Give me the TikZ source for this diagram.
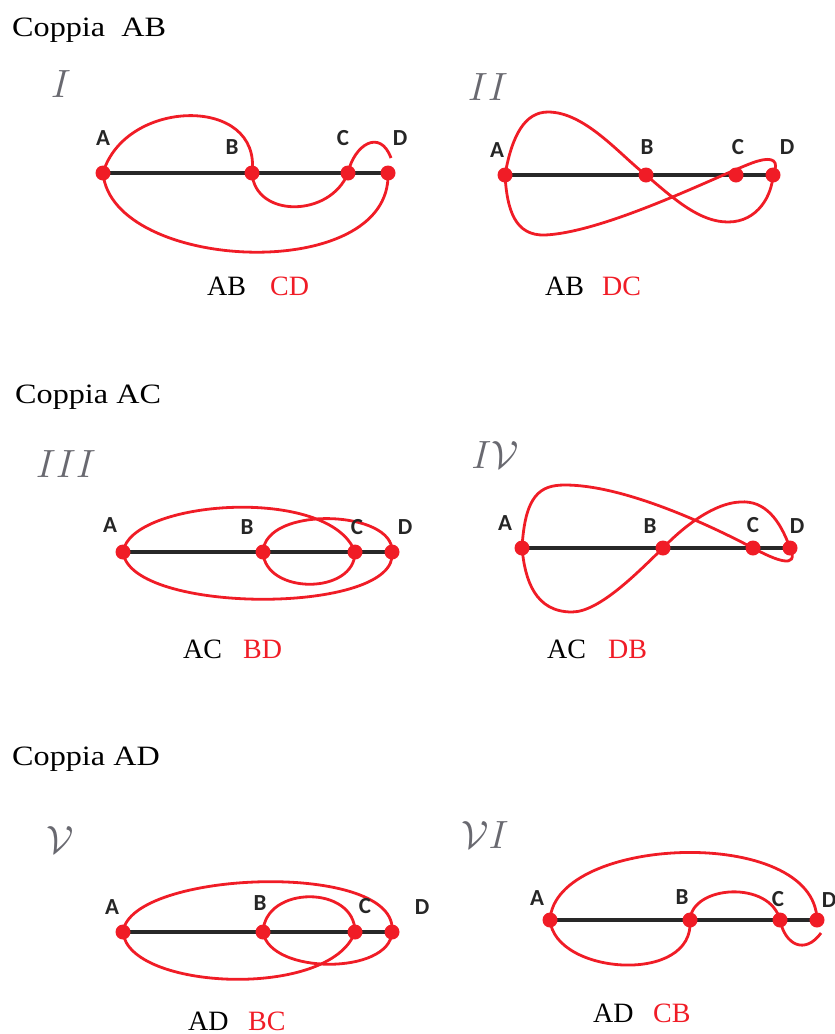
\documentclass[tikz,border=0pt]{standalone}
\usepackage{fontspec}
\setmainfont{Liberation Serif}
\newfontfamily\hdrfont[FakeStretch=1.15]{Liberation Serif}
\newfontfamily\ptfont{Carlito}
\definecolor{myred}{RGB}{240,28,38}
\definecolor{axisgray}{RGB}{40,40,40}
\definecolor{numgray}{RGB}{105,105,112}
\tikzset{
 dot/.style={circle,fill=myred,inner sep=0pt,minimum size=15pt},
 axisline/.style={line width=3.6pt,draw=axisgray},
 curve/.style={line width=2.8pt,draw=myred},
 ptlabel/.style={font=\ptfont\bfseries\fontsize{23}{23}\selectfont,inner sep=0pt,text=black!85},
 header/.style={font=\hdrfont\fontsize{28}{28}\selectfont,anchor=base west,inner sep=0pt},
 pairlbl/.style={font=\fontsize{28}{28}\selectfont,anchor=base west,inner sep=0pt},
 pairred/.style={pairlbl,text=myred},
 numlbl/.style={font=\fontsize{20}{20}\selectfont,text=numgray,inner sep=0pt},
}
\begin{document}
\begin{tikzpicture}[x=1pt,y=-1pt]
\useasboundingbox (0,0) rectangle (835,1034);
% headers
\node[header] (h1) at (12,36) {Coppia\ \ AB};
\node[header] (h2) at (15,403) {Coppia AC};
\node[header] (h3) at (12,765) {Coppia AD};
% roman numerals
\node[numlbl] (n1) at (61,84) {\scalebox{1.9}{$I$}};
\node[numlbl] (n2) at (488,87) {\scalebox{1.9}{$II$}};
\node[numlbl] (n3) at (66,464) {\scalebox{1.9}{$III$}};
\node[numlbl] (n4) at (495,455) {\scalebox{1.9}{$I\mathcal{V}$}};
\node[numlbl] (n5) at (60,840) {\scalebox{1.9}{$\mathcal{V}$}};
\node[numlbl] (n6) at (485,835) {\scalebox{1.9}{$\mathcal{V}I$}};
% ---------- points ----------
\coordinate (A1) at (103,173); \coordinate (B1) at (252,173);
\coordinate (C1) at (348,173); \coordinate (D1) at (388,173);
\coordinate (A2) at (505,175); \coordinate (B2) at (646,175);
\coordinate (C2) at (736,175); \coordinate (D2) at (773,175);
\coordinate (A3) at (123,552); \coordinate (B3) at (263,552);
\coordinate (C3) at (355,552); \coordinate (D3) at (392,552);
\coordinate (A4) at (522,548); \coordinate (B4) at (663,548);
\coordinate (C4) at (753,548); \coordinate (D4) at (790,548);
\coordinate (A5) at (123,932); \coordinate (B5) at (263,932);
\coordinate (C5) at (355,932); \coordinate (D5) at (392,932);
\coordinate (A6) at (550,920); \coordinate (B6) at (690,920);
\coordinate (C6) at (780,920); \coordinate (D6) at (817,920);
% ---------- axes ----------
\foreach \i in {1,...,6} {\draw[axisline] (A\i) -- (D\i);}
% ---------- panel I ----------
\draw[curve] (A1) .. controls (125,98) and (262,95) .. (B1);
\draw[curve] (B1) .. controls (255,218) and (330,218) .. (C1)
  .. controls (354,145) and (380,128) .. (391,158);
\draw[curve] (A1) .. controls (112,272) and (392,285) .. (D1);
\node[ptlabel] (la1) at (103,138) {A};
\node[ptlabel] (lb1) at (232,147) {B};
\node[ptlabel] (lc1) at (343,138) {C};
\node[ptlabel] (ld1) at (400,138) {D};
\node[pairlbl] (p1a) at (207,295) {AB};
\node[pairred] (p1b) at (270,295) {CD};
% ---------- panel II ----------
\draw[curve] (A2) .. controls (512,135) and (525,112) .. (548,112)
  .. controls (585,112) and (620,155) .. (B2)
  .. controls (675,200) and (700,222) .. (728,222)
  .. controls (758,222) and (772,195) .. (D2)
  .. controls (780,160) and (772,157) .. (758,161)
  .. controls (735,167) and (610,232) .. (545,235)
  .. controls (515,236) and (507,210) .. (A2);
\node[ptlabel] (la2) at (497,150) {A};
\node[ptlabel] (lb2) at (647,147) {B};
\node[ptlabel] (lc2) at (738,147) {C};
\node[ptlabel] (ld2) at (787,147) {D};
\node[pairlbl] (p2a) at (545,295) {AB};
\node[pairred] (p2b) at (602,295) {DC};
% ---------- panel III ----------
\draw[curve] (A3) .. controls (130,500) and (330,485) .. (C3);
\draw[curve] (A3) .. controls (130,615) and (400,615) .. (D3);
\draw[curve] (D3) .. controls (395,510) and (265,505) .. (B3);
\draw[curve] (B3) .. controls (265,595) and (355,595) .. (C3);
\node[ptlabel] (la3) at (110,525) {A};
\node[ptlabel] (lb3) at (247,527) {B};
\node[ptlabel] (lc3) at (357,527) {C};
\node[ptlabel] (ld3) at (405,527) {D};
\node[pairlbl] (p3a) at (183,658) {AC};
\node[pairred] (p3b) at (243,658) {BD};
% ---------- panel IV ----------
\draw[curve] (A4) .. controls (525,495) and (540,485) .. (565,485)
  .. controls (620,485) and (700,520) .. (C4)
  .. controls (775,560) and (800,570) .. (D4)
  .. controls (780,520) and (765,500) .. (740,502)
  .. controls (715,503) and (685,525) .. (B4)
  .. controls (640,570) and (600,612) .. (572,612)
  .. controls (535,612) and (525,580) .. (A4);
\node[ptlabel] (la4) at (505,523) {A};
\node[ptlabel] (lb4) at (650,526) {B};
\node[ptlabel] (lc4) at (753,525) {C};
\node[ptlabel] (ld4) at (797,526) {D};
\node[pairlbl] (p4a) at (547,658) {AC};
\node[pairred] (p4b) at (608,658) {DB};
% ---------- panel V ----------
\draw[curve] (A5) .. controls (130,870) and (400,860) .. (D5);
\draw[curve] (A5) .. controls (128,990) and (330,1000) .. (C5);
\draw[curve] (B5) .. controls (265,885) and (355,885) .. (C5);
\draw[curve] (B5) .. controls (270,975) and (390,975) .. (D5);
\node[ptlabel] (la5) at (112,907) {A};
\node[ptlabel] (lb5) at (260,903) {B};
\node[ptlabel] (lc5) at (365,906) {C};
\node[ptlabel] (ld5) at (422,907) {D};
\node[pairlbl] (p5a) at (188,1030) {AD};
\node[pairred] (p5b) at (248,1030) {BC};
% ---------- panel VI ----------
\draw[curve] (A6) .. controls (555,835) and (815,825) .. (D6);
\draw[curve] (A6) .. controls (555,975) and (695,985) .. (B6);
\draw[curve] (B6) .. controls (692,885) and (770,880) .. (C6)
  .. controls (785,945) and (805,955) .. (821,933);
\node[ptlabel] (la6) at (537,898) {A};
\node[ptlabel] (lb6) at (682,897) {B};
\node[ptlabel] (lc6) at (778,899) {C};
\node[ptlabel] (ld6) at (829,900) {D};
\node[pairlbl] (p6a) at (593,1022) {AD};
\node[pairred] (p6b) at (653,1022) {CB};
% ---------- dots on top ----------
\foreach \i in {1,...,6} {
  \foreach \p in {A,B,C,D} {\node[dot] (dot\p\i) at (\p\i) {};}
}
\end{tikzpicture}
\end{document}
